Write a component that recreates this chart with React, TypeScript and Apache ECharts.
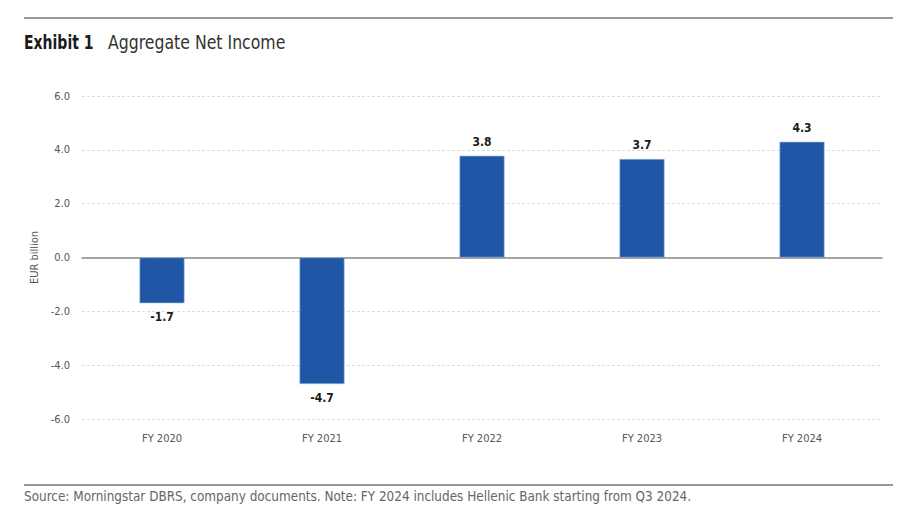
import React, { useEffect, useRef } from "react";
import * as echarts from "echarts";

const categories = ["FY 2020", "FY 2021", "FY 2022", "FY 2023", "FY 2024"];
const netIncome = [-1.7, -4.7, 3.78, 3.66, 4.3];
const titleBold = "Exhibit 1";
const titleText = "Aggregate Net Income";
const yAxisName = "EUR billion";
const sourceText =
  "Source: Morningstar DBRS, company documents. Note: FY 2024 includes Hellenic Bank starting from Q3 2024.";

const FONT = '"DejaVu Sans Condensed", Roboto, sans-serif';

export default function App() {
  const ref = useRef<HTMLDivElement>(null);
  useEffect(() => {
    if (!ref.current) return;
    const chart = echarts.init(ref.current, undefined, { renderer: "svg" });
    chart.setOption({
      animation: false,
      backgroundColor: "#ffffff",
      textStyle: { fontFamily: FONT },
      graphic: [
        { type: "line", shape: { x1: 24, y1: 18, x2: 893, y2: 18 }, style: { stroke: "#333333", lineWidth: 1 } },
        { type: "line", shape: { x1: 24, y1: 485, x2: 893, y2: 485 }, style: { stroke: "#333333", lineWidth: 1 } },
        {
          type: "text",
          x: 24,
          y: 42,
          scaleX: 0.82,
          style: {
            text: titleBold,
            verticalAlign: "middle",
            fontFamily: FONT,
            fontSize: 19,
            fontWeight: "bold",
            fill: "#1a1a1a",
          },
        },
        {
          type: "text",
          x: 108,
          y: 42,
          scaleX: 0.92,
          style: {
            text: titleText,
            verticalAlign: "middle",
            fontFamily: FONT,
            fontSize: 19,
            fontWeight: "normal",
            fill: "#333333",
          },
        },
        {
          type: "text",
          x: 24,
          y: 496,
          style: { text: sourceText, fontFamily: FONT, fontSize: 13.4, fill: "#666666", verticalAlign: "middle" },
        },
      ],
      grid: { left: 82, right: 35, top: 96, bottom: 95, containLabel: false },
      xAxis: {
        type: "category",
        data: categories,
        axisLine: { onZero: true, lineStyle: { color: "#888888", width: 1.5 } },
        axisTick: { show: false },
        axisLabel: { color: "#555555", fontSize: 11, fontFamily: FONT, margin: 14 },
      },
      yAxis: {
        type: "value",
        min: -6,
        max: 6,
        interval: 2,
        name: yAxisName,
        nameLocation: "middle",
        nameGap: 33,
        nameTextStyle: { color: "#555555", fontSize: 11, fontFamily: FONT },
        axisLine: { show: false },
        axisTick: { show: false },
        axisLabel: { color: "#555555", fontSize: 11, fontFamily: FONT, margin: 12, formatter: (v: number) => v.toFixed(1) },
        splitLine: { lineStyle: { color: "#dddddd", type: [3, 2], width: 1 } },
      },
      series: [
        {
          type: "bar",
          barWidth: 45,
          data: netIncome.map((v) => ({
            value: v,
            label: { position: v < 0 ? "bottom" : "top" },
          })),
          itemStyle: { color: "#1f56a5", borderColor: "#9fb9e0", borderWidth: 0.6 },
          label: {
            show: true,
            distance: 8,
            color: "#1a1a1a",
            fontWeight: "bold",
            fontSize: 12,
            fontFamily: FONT,
            formatter: (p: any) => Number(p.value).toFixed(1),
          },
        },
      ],
    });
    return () => chart.dispose();
  }, []);
  return <div ref={ref} style={{ position: "absolute", left: 0, top: 0, width: 917, height: 514 }} />;
}
